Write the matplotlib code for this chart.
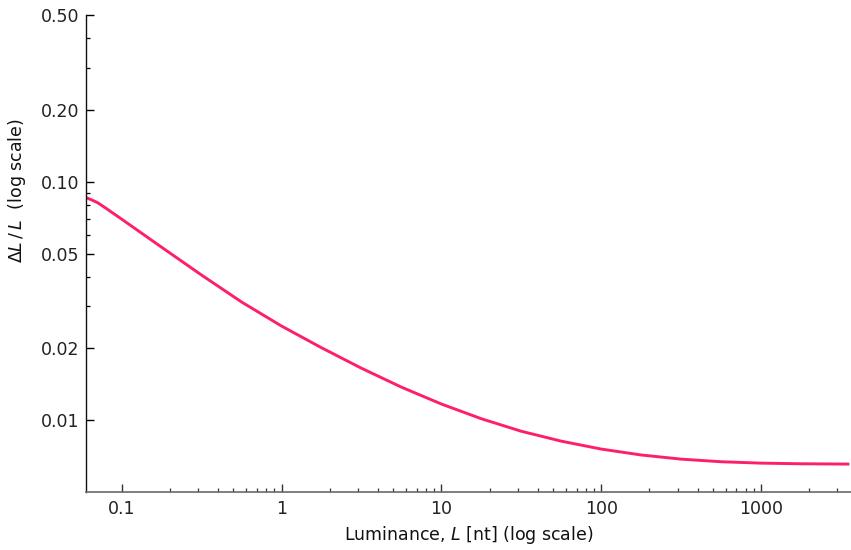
import numpy as np
import matplotlib
matplotlib.use("Agg")
import matplotlib.pyplot as plt
from matplotlib.ticker import FixedLocator, NullFormatter

# luminance samples (nt) and the relative threshold
luminance = [0.0598, 0.0646, 0.0708, 0.0794, 0.1, 0.178, 0.316, 0.562, 1.0,
             1.78, 3.16, 5.62, 10, 17.8, 31.6, 56.2, 100, 178, 316, 562,
             1000, 1780, 3565]
delta_ratio = [0.0859, 0.0841, 0.0817, 0.0776, 0.0697, 0.0531, 0.0406, 0.0313,
               0.0248, 0.0201, 0.0165, 0.01374, 0.01167, 0.01012, 0.00897,
               0.00815, 0.00755, 0.00713, 0.00685, 0.00668, 0.00659, 0.00655,
               0.00653]

x_major = [0.1, 1, 10, 100, 1000]
x_labels = ["0.1", "1", "10", "100", "1000"]
y_major = [0.01, 0.02, 0.05, 0.1, 0.2, 0.5]
y_labels = ["0.01", "0.02", "0.05", "0.10", "0.20", "0.50"]
y_minor = [0.03, 0.04, 0.06, 0.07, 0.08, 0.09, 0.3, 0.4]

plt.rcParams['font.family'] = ['DejaVu Sans']
plt.rcParams['mathtext.fontset'] = 'dejavusans'

fig = plt.figure(figsize=(8.51, 5.50), dpi=100)
ax = fig.add_axes([0.1011, 0.106, 0.8989, 0.866])

ax.plot(luminance, delta_ratio, color='#fe1f6a', lw=2.1,
        solid_capstyle='butt', solid_joinstyle='round')

ax.set_xscale('log')
ax.set_yscale('log')
ax.set_xlim(0.0598, 3650)
ax.set_ylim(0.005, 0.5)

ax.xaxis.set_major_locator(FixedLocator(x_major))
ax.set_xticklabels(x_labels)
x_minor = [m * d for d in [0.1, 1, 10, 100, 1000] for m in range(2, 10)]
x_minor = [v for v in x_minor if v < 3650]
ax.xaxis.set_minor_locator(FixedLocator(x_minor))
ax.xaxis.set_minor_formatter(NullFormatter())

ax.yaxis.set_major_locator(FixedLocator(y_major))
ax.set_yticklabels(y_labels)
ax.yaxis.set_minor_locator(FixedLocator(y_minor))
ax.yaxis.set_minor_formatter(NullFormatter())

for side in ['top', 'right']:
    ax.spines[side].set_visible(False)
ax.spines['left'].set_color('#111111')
ax.spines['bottom'].set_color('#6a6a6a')
ax.spines['left'].set_linewidth(1.0)
ax.spines['bottom'].set_linewidth(1.2)

ax.tick_params(axis='both', which='major', direction='in', length=6, width=1.0,
               labelsize=12.5, labelcolor='#222222')
ax.tick_params(axis='both', which='minor', direction='in', length=3, width=0.9)
ax.tick_params(axis='x', which='both', colors='#333333', labelcolor='#222222', pad=6)
ax.tick_params(axis='y', which='both', pad=4.5)

ax.set_xlabel('Luminance, $\\mathit{L}$ [nt] (log scale)', fontsize=12.5,
              color='#111111', labelpad=4)
ax.set_ylabel('$\\Delta\\mathit{L}\\,/\\,\\mathit{L}$  (log scale)', fontsize=12.5,
              color='#111111')
ax.yaxis.set_label_coords(-0.076, 0.632)

fig.savefig('out.png', dpi=100)
